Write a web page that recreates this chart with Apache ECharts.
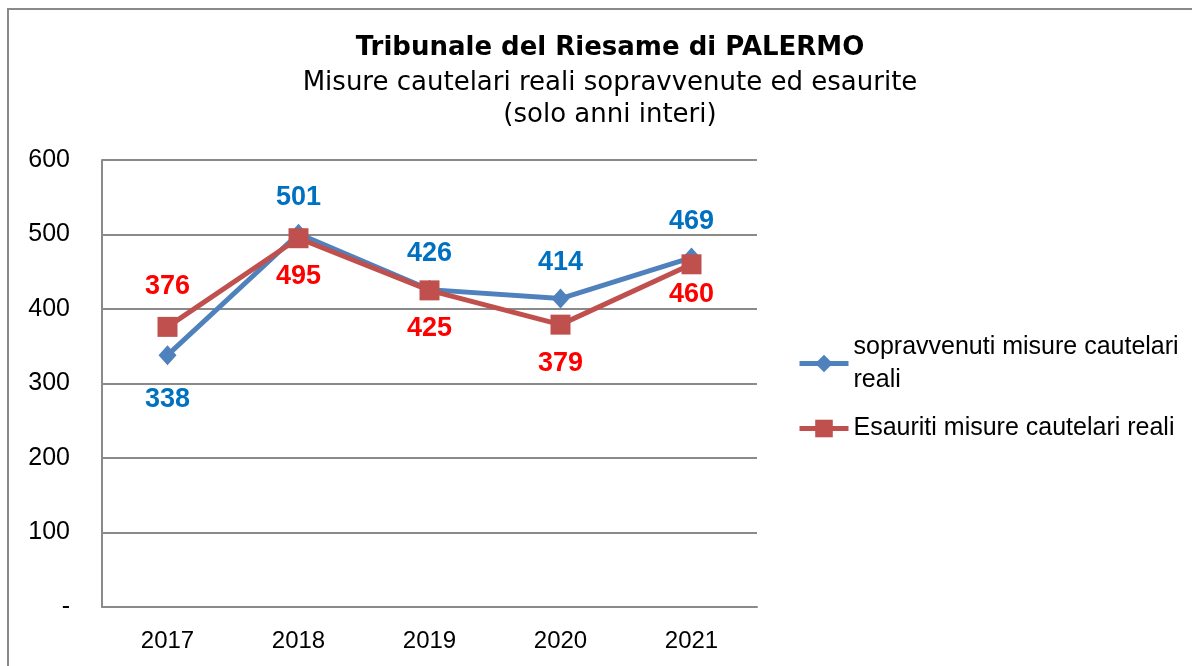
<!DOCTYPE html>
<html>
<head>
<meta charset="utf-8">
<script src="https://cdn.jsdelivr.net/npm/echarts@6/dist/echarts.min.js"></script>
<style>html,body{margin:0;padding:0;background:#fff}#c{width:1192px;height:666px}</style>
</head>
<body>
<div id="c"></div>
<script>
var years = ['2017', '2018', '2019', '2020', '2021'];
var sopravvenuti = [338, 501, 426, 414, 469];
var esauriti = [376, 495, 425, 379, 460];
var nameA = 'sopravvenuti misure cautelari reali';
var nameB = 'Esauriti misure cautelari reali';
var labelPosA = ['bottom', 'top', 'top', 'top', 'top'];
var labelPosB = ['top', 'bottom', 'bottom', 'bottom', 'bottom'];

var axisFont = 'Liberation Sans';
function mk(vals, pos, dist) {
  return vals.map(function (v, i) {
    return { value: v, label: { position: pos[i], distance: dist[i] } };
  });
}
var chart = echarts.init(document.getElementById('c'), null, { renderer: 'canvas' });
chart.setOption({
  animation: false,
  backgroundColor: '#fff',
  graphic: [{
    type: 'rect', shape: { x: 8, y: 9, width: 1300, height: 800 },
    style: { fill: 'none', stroke: '#8a8a8a', lineWidth: 2 }, silent: true
  }],
  title: {
    text: 'Tribunale del Riesame di PALERMO',
    subtext: 'Misure cautelari reali sopravvenute ed esaurite\n(solo anni interi)',
    left: 605, top: 28, textAlign: 'center', itemGap: 4,
    textStyle: { fontFamily: 'DejaVu Sans', fontWeight: 'bold', fontSize: 26, color: '#000', lineHeight: 30 },
    subtextStyle: { fontFamily: 'DejaVu Sans', fontSize: 26, color: '#000', lineHeight: 32 }
  },
  legend: [{
    data: [nameA], orient: 'vertical', left: 797, top: 314, padding: 0,
    itemWidth: 49, itemHeight: 22,
    lineStyle: { width: 5 },
    formatter: function () { return 'sopravvenuti misure cautelari\nreali'; },
    textStyle: { fontFamily: axisFont, fontSize: 25, color: '#000', lineHeight: 33, padding: [33, 0, 0, 0] }
  }, {
    data: [nameB], orient: 'vertical', left: 797, top: 416, padding: 0,
    itemWidth: 49, itemHeight: 22,
    lineStyle: { width: 5 },
    textStyle: { fontFamily: axisFont, fontSize: 25, color: '#000' }
  }],
  grid: { left: 102, top: 160, width: 655, height: 447, containLabel: false },
  xAxis: {
    type: 'category', data: years, boundaryGap: true,
    axisLine: { lineStyle: { color: '#8a8a8a', width: 2 } },
    axisTick: { show: false },
    axisLabel: { fontFamily: axisFont, fontSize: 24, color: '#000', margin: 22 }
  },
  yAxis: {
    type: 'value', min: 0, max: 600, interval: 100,
    axisLine: { show: true, lineStyle: { color: '#8a8a8a', width: 2 } },
    axisTick: { show: false },
    splitLine: { lineStyle: { color: '#8a8a8a', width: 2 } },
    axisLabel: {
      fontFamily: axisFont, fontSize: 25, color: '#000', margin: 32,
      formatter: function (v) { return v === 0 ? '-' : String(v); }
    }
  },
  series: [{
    name: nameA, type: 'line', data: mk(sopravvenuti, labelPosA, [21, 13, 13, 13, 13]),
    symbol: 'diamond', symbolSize: [18, 20],
    lineStyle: { color: '#4F81BD', width: 5 },
    itemStyle: { color: '#4F81BD' },
    label: { show: true, fontFamily: axisFont, fontWeight: 'bold', fontSize: 27, color: '#0070C0' }
  }, {
    name: nameB, type: 'line', data: mk(esauriti, labelPosB, [17, 15, 15, 15, 7]),
    symbol: 'rect', symbolSize: 20,
    lineStyle: { color: '#C0504D', width: 5 },
    itemStyle: { color: '#C0504D' },
    label: { show: true, fontFamily: axisFont, fontWeight: 'bold', fontSize: 27, color: '#FF0000' }
  }]
});
</script>
</body>
</html>
